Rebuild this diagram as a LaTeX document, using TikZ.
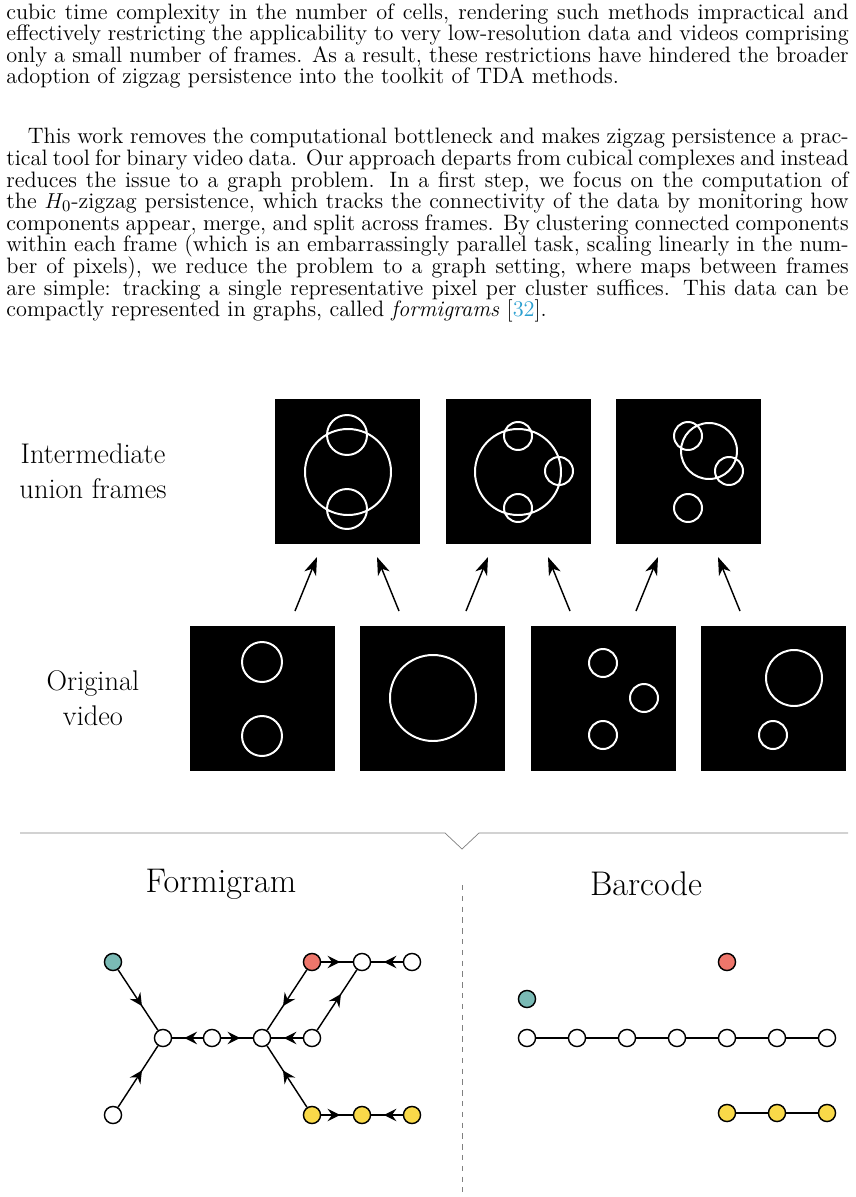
\documentclass[tikz,border=0pt]{standalone}
\usepackage{tikz}
\usetikzlibrary{positioning,arrows.meta,decorations.markings}
\definecolor{tealc}{HTML}{7ABAB5}
\definecolor{redc}{HTML}{EE766B}
\definecolor{yellowc}{HTML}{F9D949}
\definecolor{citec}{HTML}{2A9FD0}
\newcommand{\bodyfont}{\fontsize{12.4pt}{12pt}\selectfont\lineskiplimit=-6pt}
\tikzset{
  v/.style={circle, draw, thick, fill=white, inner sep=0pt, minimum size=9.5pt},
  mid/.style={postaction={decorate}, decoration={markings,
      mark=at position 0.6 with {\arrow{Stealth[length=7pt,width=7pt,inset=2.5pt]}}}},
  frame/.style={fill=black, minimum size=80.5pt, inner sep=0pt},
  ring/.style={draw=white, line width=1.1pt},
  up/.style={-{Stealth[length=10pt,width=7pt,inset=3pt]}, thick},
  para/.style={anchor=north west, inner sep=0pt, text width=468pt, align=justify, font=\bodyfont},
}
\begin{document}
\begin{tikzpicture}[x=0.5556pt, y=-0.5556pt]
\useasboundingbox (0,0) rectangle (855,1197);
% text
\node [para] (p1) at (6,3) {%
cubic time complexity in the number of cells, rendering such methods impractical and\linebreak
effectively restricting the applicability to very low-resolution data and videos comprising\linebreak
only a small number of frames. As a result, these restrictions have hindered the broader\linebreak
adoption of zigzag persistence into the toolkit of TDA methods.};
\node [para] (p2) at (6,128) {%
\hspace*{12pt}This work removes the computational bottleneck and makes zigzag persistence a prac-\linebreak
tical tool for binary video data. Our approach departs from cubical complexes and instead\linebreak
reduces the issue to a graph problem. In a first step, we focus on the computation of\linebreak
the $H_0$-zigzag persistence, which tracks the connectivity of the data by monitoring how\linebreak
components appear, merge, and split across frames. By clustering connected components\linebreak
within each frame (which is an embarrassingly parallel task, scaling linearly in the num-\linebreak
ber of pixels), we reduce the problem to a graph setting, where maps between frames\linebreak
are simple: tracking a single representative pixel per cluster suffices. This data can be\linebreak
compactly represented in graphs, called \emph{formigrams} [\textcolor{citec}{32}].};
% labels
\node [align=center, font=\fontsize{15.8pt}{19.5pt}\selectfont] (lunion) at (93,471) {Intermediate\\union frames};
\node [align=center, font=\fontsize{15.8pt}{19.5pt}\selectfont] (lorig) at (93,698) {Original\\video};
% original video frames
\node [frame] (o1) at (262.5,698.5) {};
\node [frame] (o2) at (432.5,698.5) {};
\node [frame] (o3) at (603.5,698.5) {};
\node [frame] (o4) at (773.5,698.5) {};
\draw [ring] (262,662) circle (20) (262,736) circle (20);
\draw [ring] (433,698) circle (43);
\draw [ring] (603,663) circle (14) (644,698) circle (14) (603,735) circle (14);
\draw [ring] (794,678) circle (28) (773,735) circle (14);
% union frames
\node [frame] (u1) at (347.5,471.5) {};
\node [frame] (u2) at (518.5,471.5) {};
\node [frame] (u3) at (688.5,471.5) {};
\draw [ring] (348,472) circle (43) (347,435) circle (20) (347,509) circle (20);
\draw [ring] (518,472) circle (43) (518,436) circle (14) (559,471) circle (14) (518,508) circle (14);
\draw [ring] (709,451) circle (28) (688,436) circle (14) (729,471) circle (14) (688,508) circle (14);
% arrows
\foreach \c in {347,518,688} {
  \draw [up] (\c-52,611) -- (\c-30,557);
  \draw [up] (\c+52,611) -- (\c+30,557);
}
% separator
\draw [gray] (20,833) -- (445,833) -- (462,849) -- (479,833) -- (848,833);
\draw [gray, dashed] (462,885) -- (462,1192);
\node [font=\fontsize{19pt}{23pt}\selectfont] (tform) at (221,884) {Formigram};
\node [font=\fontsize{19pt}{23pt}\selectfont] (tbar) at (646,884) {Barcode};
% formigram
\node [v, fill=tealc] (t) at (113,962) {};
\node [v] (w) at (113,1115) {};
\node [v] (a) at (163,1038) {};
\node [v] (b) at (212,1038) {};
\node [v] (c) at (262,1038) {};
\node [v] (d) at (312,1038) {};
\node [v, fill=redc] (r) at (312,962) {};
\node [v] (e) at (362,962) {};
\node [v] (f) at (412,962) {};
\node [v, fill=yellowc] (y1) at (312,1115) {};
\node [v, fill=yellowc] (y2) at (362,1115) {};
\node [v, fill=yellowc] (y3) at (412,1115) {};
\draw [thick, mid] (t) -- (a);
\draw [thick, mid] (w) -- (a);
\draw [thick, mid] (b) -- (a);
\draw [thick, mid] (b) -- (c);
\draw [thick, mid] (d) -- (c);
\draw [thick, mid] (r) -- (c);
\draw [thick, mid] (y1) -- (c);
\draw [thick, mid] (d) -- (e);
\draw [thick, mid] (r) -- (e);
\draw [thick, mid] (f) -- (e);
\draw [thick, mid] (y1) -- (y2);
\draw [thick, mid] (y3) -- (y2);
% barcode
\node [v, fill=tealc] (bt) at (527,999) {};
\node [v, fill=redc] (br) at (727,962) {};
\foreach \i/\x in {1/527,2/577,3/627,4/677,5/727,6/777,7/827}
  \node [v] (bw\i) at (\x,1038) {};
\draw [thick] (bw1) -- (bw2) -- (bw3) -- (bw4) -- (bw5) -- (bw6) -- (bw7);
\node [v, fill=yellowc] (by1) at (727,1113) {};
\node [v, fill=yellowc] (by2) at (777,1113) {};
\node [v, fill=yellowc] (by3) at (827,1113) {};
\draw [thick] (by1) -- (by2) -- (by3);
\end{tikzpicture}
\end{document}
